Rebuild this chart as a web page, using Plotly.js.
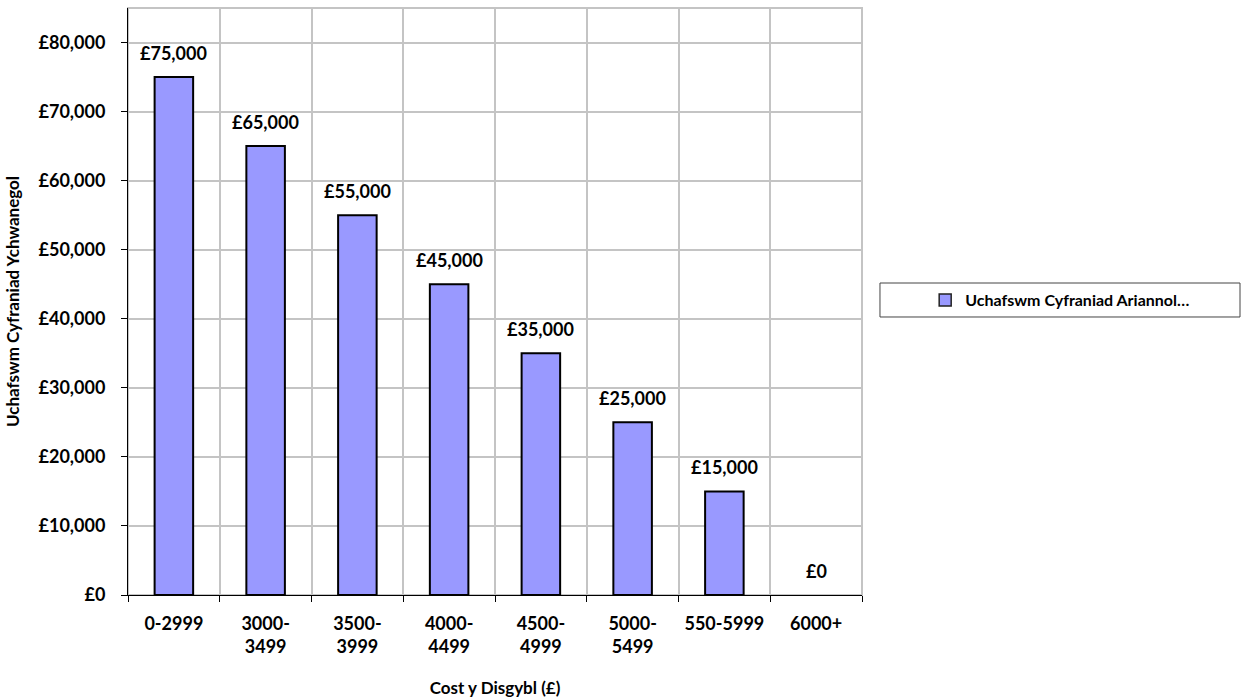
<!DOCTYPE html>
<html><head><meta charset="utf-8">
<script src="https://cdn.plot.ly/plotly-3.0.1.min.js"></script>
<style>html,body{margin:0;padding:0;background:#fff}#chart{width:1243px;height:698px}</style>
</head><body><div id="chart"></div>
<script>
const categories = ["0-2999","3000-<br>3499","3500-<br>3999","4000-<br>4499","4500-<br>4999","5000-<br>5499","550-5999","6000+"];
const values = [75000,65000,55000,45000,35000,25000,15000,0];
const seriesName = "Uchafswm Cyfraniad Ariannol…";
const labels = values.map(v => "£" + v.toLocaleString("en-GB"));
const FONT = "Lato, 'Open Sans', sans-serif";
const FS = 18;

const trace = {
  type: "bar", x: categories, y: values, name: seriesName,
  marker: {color: "#9999FF", line: {color: "#000", width: values.map(v => v > 0 ? 2 : 0)}},
  hoverinfo: "none", showlegend: true
};
const legendTrace = {
  type: "bar", x: [categories[0]], y: [null], name: seriesName,
  marker: {color: "#9999FF", line: {color: "#222", width: 1.5}}, hoverinfo: "none", showlegend: true
};
trace.showlegend = false;
const annotations = categories.map((c, i) => ({
  x: c, y: values[i], xref: "x", yref: "y", text: labels[i], showarrow: false,
  yanchor: "middle", yshift: 24, font: {family: FONT, size: FS, color: "#000", weight: "bold"}
}));
const layout = {
  width: 1243, height: 698,
  margin: {l: 128, r: 381, t: 8, b: 103},
  paper_bgcolor: "#fff", plot_bgcolor: "#fff",
  bargap: 0.58, barmode: "overlay",
  font: {family: FONT, size: FS, color: "#000", weight: "bold"},
  xaxis: {
    type: "category", tickson: "boundaries", ticks: "outside", ticklen: 6, tickcolor: "#000",
    showgrid: true, gridcolor: "#c4c4c4", gridwidth: 2,
    showline: true, linecolor: "#000", linewidth: 1, ticklabelstandoff: 12,
    tickfont: {family: FONT, size: FS, weight: "bold"},
    title: {text: "Cost y Disgybl (£)", font: {family: FONT, size: FS - 1, weight: "bold"}, standoff: 30},
    automargin: false
  },
  yaxis: {
    range: [0, 85000], tick0: 0, dtick: 10000, tickprefix: "£", tickformat: ",d",
    ticks: "outside", ticklen: 6, tickcolor: "#000",
    showgrid: true, gridcolor: "#c4c4c4", gridwidth: 2, ticklabelstandoff: 12,
    showline: true, linecolor: "#000", linewidth: 1, zeroline: false,
    tickfont: {family: FONT, size: FS, weight: "bold"},
    title: {text: "Uchafswm Cyfraniad Ychwanegol", font: {family: FONT, size: FS - 1, weight: "bold"}, standoff: 14},
    automargin: false
  },
  annotations: annotations,
  shapes: [
    {type: "rect", xref: "paper", yref: "paper", x0: 0, x1: 1, y0: 0, y1: 1, line: {color: "#c4c4c4", width: 2}, layer: "below"},
    {type: "rect", xref: "paper", yref: "paper", x0: 1.0245, x1: 1.515, y0: 0.4736, y1: 0.5315, line: {color: "#444", width: 1}}
  ],
  showlegend: true,
  legend: {x: 1.27, y: 0.5025, xanchor: "center", yanchor: "middle", bgcolor: "rgba(0,0,0,0)", borderwidth: 0,
    font: {family: FONT, size: 16, weight: "bold"}, itemwidth: 30}
};
Plotly.newPlot("chart", [trace, legendTrace], layout, {displayModeBar: false, staticPlot: true});
</script></body></html>
